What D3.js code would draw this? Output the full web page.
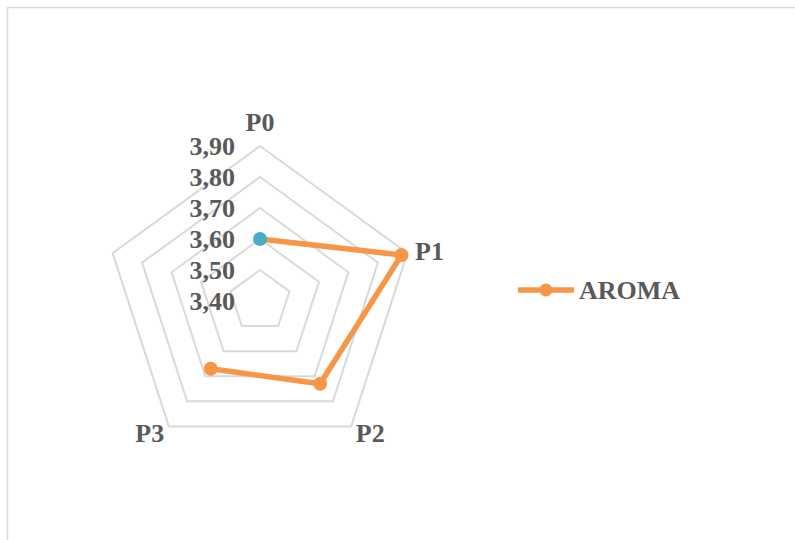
<!DOCTYPE html>
<html><head><meta charset="utf-8">
<script src="https://cdn.jsdelivr.net/npm/d3@7"></script>
<style>
html,body{margin:0;padding:0;background:#fff;}
svg{display:block;}
text{font-family:"Liberation Serif","Times New Roman",serif;font-weight:bold;fill:#595959;}
</style></head>
<body>
<svg id="chart" width="795" height="540"></svg>
<script>
const categories = ["P0", "P1", "P2", "P3", ""];
const seriesName = "AROMA";
const values = [3.60, 3.88, 3.73, 3.67, null];
const tickValues = [3.40, 3.50, 3.60, 3.70, 3.80, 3.90];

const W = 795, H = 540;
const cx = 260, cy = 301, R = 155;
const fontSize = 26;
const orange = "#f79646", blue = "#4bacc6", grid = "#d9d9d9";

const svg = d3.select("#chart");
svg.append("rect").attr("x", 7.5).attr("y", 7.5).attr("width", W + 20).attr("height", H + 20)
  .attr("fill", "#fff").attr("stroke", grid).attr("stroke-width", 1.5);

const r = d3.scaleLinear().domain([d3.min(tickValues), d3.max(tickValues)]).range([0, R]);
const angle = d3.scaleLinear().domain([0, categories.length]).range([0, 2 * Math.PI]);
const px = (i, v) => cx + r(v) * Math.sin(angle(i));
const py = (i, v) => cy - r(v) * Math.cos(angle(i));

const g = svg.append("g");
// grid rings
tickValues.filter(t => r(t) > 0).forEach(t => {
  const pts = categories.map((c, i) => [px(i, t), py(i, t)]);
  g.append("polygon").attr("points", pts.map(p => p.join(",")).join(" "))
    .attr("fill", "none").attr("stroke", grid).attr("stroke-width", 2);
});

// tick labels
const fmt = d => d3.format(".2f")(d).replace(".", ",");
g.selectAll(".tick").data(tickValues).join("text")
  .attr("x", cx - 25).attr("y", d => cy - r(d))
  .attr("dy", "0.35em").attr("text-anchor", "end")
  .attr("font-size", fontSize).text(fmt);

// category labels
categories.forEach((c, i) => {
  const a = angle(i), s = Math.sin(a), co = Math.cos(a);
  const top = co > 0.5;
  const d = top ? 15 : 8;
  const x = cx + (R + d) * s, y = cy - (R + d) * co;
  g.append("text").attr("x", x).attr("y", y)
    .attr("text-anchor", s > 0.1 ? "start" : (s < -0.1 ? "end" : "middle"))
    .attr("dy", top ? "0" : "0.35em")
    .attr("font-size", fontSize).text(c);
});

// series line
const pts = values.map((v, i) => ({i, v})).filter(d => d.v != null);
const line = d3.line().x(d => px(d.i, d.v)).y(d => py(d.i, d.v));
g.append("path").datum(pts).attr("d", line).attr("fill", "none")
  .attr("stroke", orange).attr("stroke-width", 5.5).attr("stroke-linejoin", "round");
g.selectAll(".pt").data(pts).join("circle")
  .attr("cx", d => px(d.i, d.v)).attr("cy", d => py(d.i, d.v)).attr("r", 7)
  .attr("fill", d => d.i === 0 ? blue : orange);

// legend
const lg = svg.append("g").attr("transform", "translate(518,290)");
lg.append("line").attr("x1", 0).attr("x2", 56).attr("y1", 0).attr("y2", 0)
  .attr("stroke", orange).attr("stroke-width", 5.5);
lg.append("circle").attr("cx", 28).attr("cy", 0).attr("r", 6.5).attr("fill", orange);
lg.append("text").attr("x", 61).attr("y", 0).attr("dy", "0.35em")
  .attr("font-size", fontSize).text(seriesName);
</script>
</body></html>
